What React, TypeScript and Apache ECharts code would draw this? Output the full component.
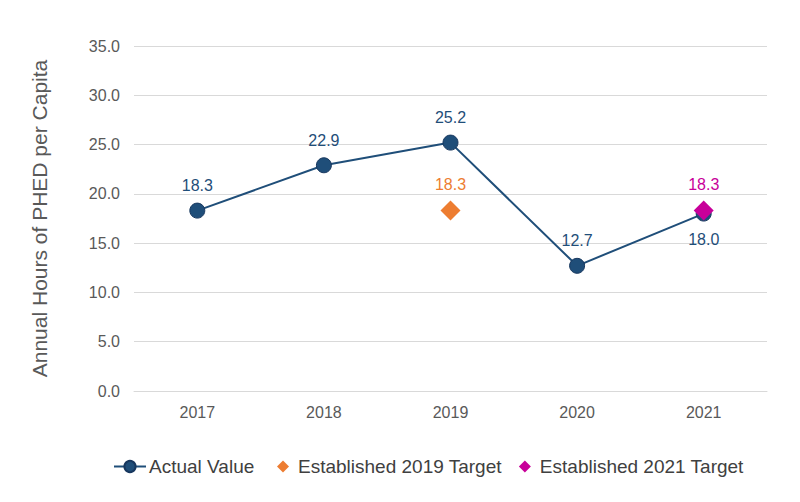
import React, { useEffect, useRef } from "react";
import * as echarts from "echarts";

const categories = ["2017", "2018", "2019", "2020", "2021"];
const actualValues = [18.3, 22.9, 25.2, 12.7, 18.0];
const target2019 = [null, null, 18.3, null, null];
const target2021 = [null, null, null, null, 18.3];
const yTicks = { min: 0, max: 35, interval: 5 };

export default function App() {
  const ref = useRef<HTMLDivElement>(null);
  useEffect(() => {
    const chart = echarts.init(ref.current!, undefined, { renderer: "svg" });
    const font = "Arial, 'Liberation Sans', sans-serif";
    const legendText = { fontSize: 19, color: "#404040", fontFamily: font };
    chart.setOption({
      animation: false,
      textStyle: { fontFamily: font },
      grid: { left: 134, right: 33, top: 46, bottom: 111 },
      legend: [
        {
          left: 113,
          top: 457,
          padding: 0,
          itemWidth: 32,
          itemHeight: 14,
          textStyle: { ...legendText, padding: [0, 0, 0, -2] },
          data: [{ name: "Actual Value" }],
        },
        {
          left: 277,
          top: 457,
          padding: 0,
          itemWidth: 12,
          itemHeight: 12,
          itemGap: 17,
          textStyle: { ...legendText, padding: [0, 0, 0, 4] },
          data: [
            { name: "Established 2019 Target", icon: "diamond" },
            { name: "Established 2021 Target", icon: "diamond" },
          ],
        },
      ],
      xAxis: {
        type: "category",
        data: categories,
        axisLine: { lineStyle: { color: "#d9d9d9", width: 1 } },
        axisTick: { show: false },
        axisLabel: { fontSize: 16, color: "#595959", margin: 13 },
      },
      yAxis: {
        type: "value",
        min: yTicks.min,
        max: yTicks.max,
        interval: yTicks.interval,
        name: "Annual Hours of PHED per Capita",
        nameLocation: "middle",
        nameGap: 84,
        nameTextStyle: { fontSize: 21, color: "#595959" },
        axisLine: { show: false },
        axisTick: { show: false },
        axisLabel: {
          fontSize: 16,
          color: "#595959",
          margin: 14,
          formatter: (v: number) => v.toFixed(1),
        },
        splitLine: { lineStyle: { color: "#d9d9d9", width: 1 } },
      },
      series: [
        {
          name: "Actual Value",
          type: "line",
          data: actualValues.map((v, i) =>
            i === 4 ? { value: v, label: { position: "bottom", distance: 10 } } : v
          ),
          symbol: "circle",
          symbolSize: 15,
          lineStyle: { color: "#1F4E79", width: 2 },
          itemStyle: { color: "#1F4E79", borderColor: "#17375E", borderWidth: 1 },
          label: {
            show: true,
            position: "top",
            distance: 9,
            fontSize: 16,
            color: "#1F4E79",
            formatter: (p: any) => Number(p.value).toFixed(1),
          },
          z: 2,
        },
        {
          name: "Established 2019 Target",
          type: "scatter",
          data: target2019,
          symbol: "diamond",
          symbolSize: 20,
          itemStyle: { color: "#ED7D31", opacity: 1 },
          label: {
            show: true,
            position: "top",
            distance: 8,
            fontSize: 16,
            color: "#ED7D31",
            formatter: (p: any) => Number(p.value).toFixed(1),
          },
          z: 3,
        },
        {
          name: "Established 2021 Target",
          type: "scatter",
          data: target2021,
          symbol: "diamond",
          symbolSize: 20,
          itemStyle: { color: "#C8009A", opacity: 1 },
          label: {
            show: true,
            position: "top",
            distance: 8,
            fontSize: 16,
            color: "#C8009A",
            formatter: (p: any) => Number(p.value).toFixed(1),
          },
          z: 3,
        },
      ],
    });
    return () => chart.dispose();
  }, []);
  return <div ref={ref} style={{ width: 800, height: 502, margin: -8 }} />;
}
